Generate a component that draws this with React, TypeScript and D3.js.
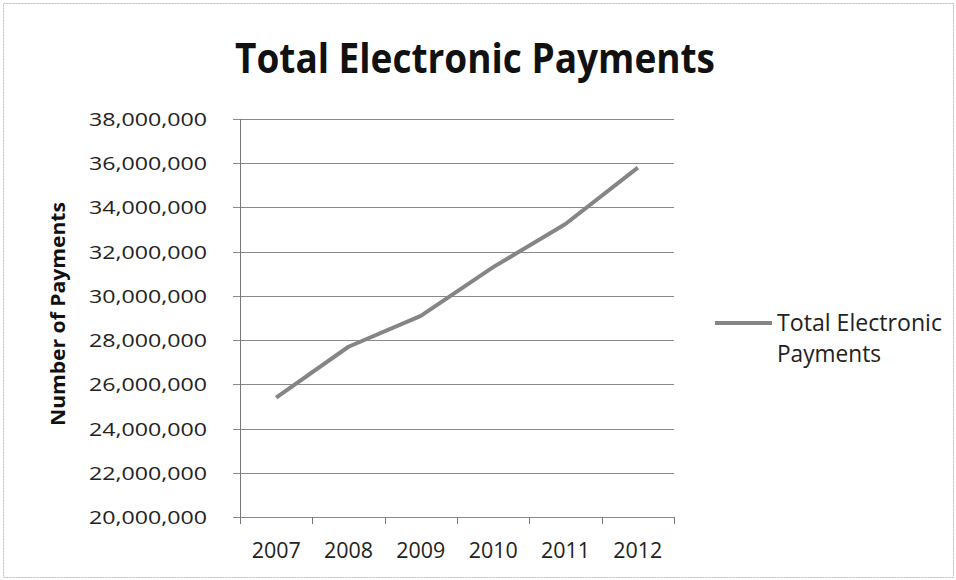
import React from "react";
import * as d3 from "d3";

const years = ["2007", "2008", "2009", "2010", "2011", "2012"];
const payments = [25400000, 27700000, 29100000, 31300000, 33250000, 35800000];
const yTicks = [20000000, 22000000, 24000000, 26000000, 28000000, 30000000, 32000000, 34000000, 36000000, 38000000];
const seriesName = ["Total Electronic", "Payments"];
const title = "Total Electronic Payments";
const yTitle = "Number of Payments";

const W = 956;
const H = 580;
const FONT = "'Open Sans', 'Noto Sans', sans-serif";

export default function App() {
  const left = 240, right = 674, top = 119, bottom = 517;
  const x = d3.scaleBand<string>().domain(years).range([left, right]);
  const y = d3.scaleLinear().domain([20000000, 38000000]).range([bottom, top]);
  const fmt = d3.format(",");
  const line = d3
    .line<number>()
    .x((_, i) => (x(years[i]) as number) + x.bandwidth() / 2)
    .y((d) => y(d));
  const tickXs = years.map((yr) => x(yr) as number).concat([right]);

  return (
    <svg
      width={W}
      height={H}
      style={{ position: "absolute", left: 0, top: 0, background: "#fff" }}
      fontFamily={FONT}
    >
      <rect x={3.5} y={3.5} width={W - 6} height={H - 6} fill="#fff" stroke="#bbb" strokeWidth={1} strokeDasharray="2,1" />
      <text
        x={475}
        y={73}
        textAnchor="middle"
        fontSize={41}
        fontWeight="bold"
        fill="#111"
        textLength={480}
        lengthAdjust="spacingAndGlyphs"
      >
        {title}
      </text>
      {yTicks.map((t) => (
        <g key={t}>
          <line x1={left - 7} x2={right} y1={Math.round(y(t)) + 0.5} y2={Math.round(y(t)) + 0.5} stroke="#8a8a8a" strokeWidth={1} />
          <text x={207} y={y(t) + 7} textAnchor="end" fontSize={19} fill="#222" textLength={118} lengthAdjust="spacingAndGlyphs">
            {fmt(t)}
          </text>
        </g>
      ))}
      <line x1={left + 0.5} x2={left + 0.5} y1={top} y2={bottom + 7} stroke="#777" strokeWidth={1} />
      {tickXs.map((tx, i) => (
        <line key={i} x1={Math.round(tx) + 0.5} x2={Math.round(tx) + 0.5} y1={bottom} y2={bottom + 7} stroke="#777" strokeWidth={1} />
      ))}
      {years.map((yr) => (
        <text
          key={yr}
          x={(x(yr) as number) + x.bandwidth() / 2}
          y={558}
          textAnchor="middle"
          fontSize={21}
          fill="#222"
          textLength={49}
          lengthAdjust="spacingAndGlyphs"
        >
          {yr}
        </text>
      ))}
      <text
        transform={`translate(65,314) rotate(-90)`}
        textAnchor="middle"
        fontSize={19}
        fontWeight="bold"
        fill="#111"
        textLength={224}
        lengthAdjust="spacingAndGlyphs"
      >
        {yTitle}
      </text>
      <path d={line(payments) || ""} fill="none" stroke="#858585" strokeWidth={4} strokeLinejoin="round" />
      <line x1={715} x2={772} y1={323} y2={323} stroke="#858585" strokeWidth={4} />
      <text x={777} y={331} fontSize={24} fill="#222" textLength={165} lengthAdjust="spacingAndGlyphs">
        {seriesName[0]}
      </text>
      <text x={777} y={362} fontSize={24} fill="#222" textLength={104} lengthAdjust="spacingAndGlyphs">
        {seriesName[1]}
      </text>
    </svg>
  );
}
